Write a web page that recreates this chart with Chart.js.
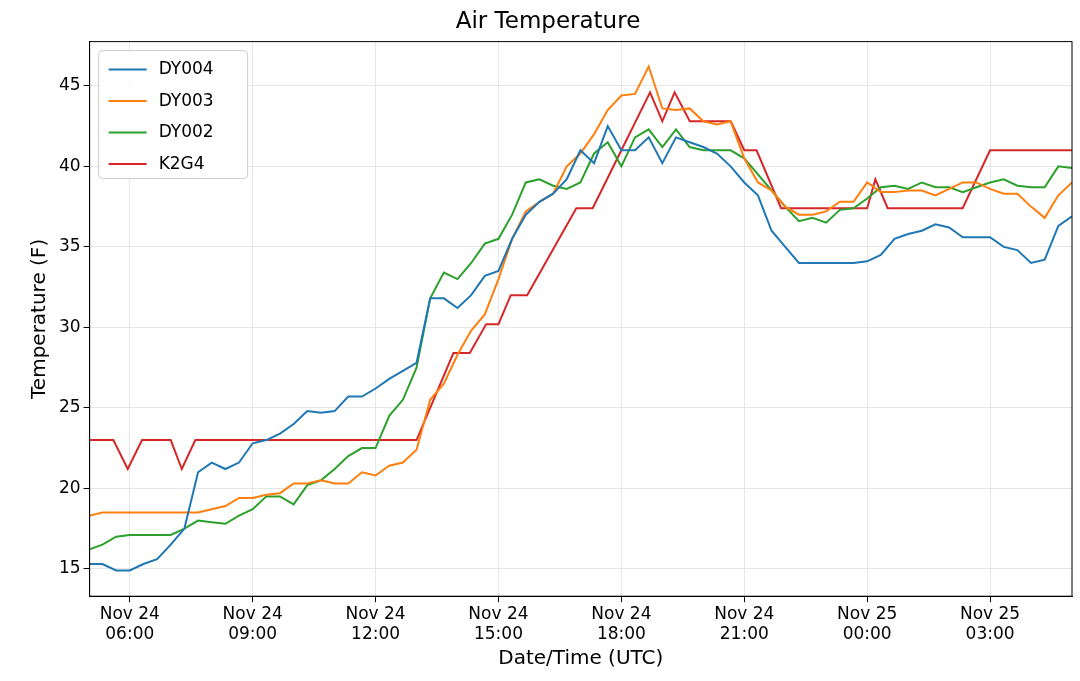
<!DOCTYPE html>
<html>
<head>
<meta charset="utf-8">
<script src="https://cdn.jsdelivr.net/npm/chart.js"></script>
<style>
html,body{margin:0;background:#fff}
#wrap{width:1080px;height:681px}
</style>
</head>
<body>
<div id="wrap"><canvas id="c"></canvas></div>
<script>
// hours since Nov 24 00:00 UTC, every 20 min
const hours = [];
for (let i = 0; i <= 72; i++) hours.push(5 + i / 3);

const dy004 = [15.3,15.3,14.9,14.9,15.3,15.6,16.5,17.5,21.0,21.6,21.2,21.6,22.8,23.0,23.4,24.0,24.8,24.7,24.8,25.7,25.7,26.2,26.8,27.3,27.8,31.8,31.8,31.2,32.0,33.2,33.5,35.5,37.0,37.8,38.3,39.2,41.0,40.2,42.5,41.0,41.0,41.8,40.2,41.8,41.5,41.2,40.8,40.0,39.0,38.2,36.0,35.0,34.0,34.0,34.0,34.0,34.0,34.1,34.5,35.5,35.8,36.0,36.4,36.2,35.6,35.6,35.6,35.0,34.8,34.0,34.2,36.3,36.9];
const dy003 = [18.3,18.5,18.5,18.5,18.5,18.5,18.5,18.5,18.5,18.7,18.9,19.4,19.4,19.6,19.7,20.3,20.3,20.5,20.3,20.3,21.0,20.8,21.4,21.6,22.4,25.5,26.5,28.3,29.8,30.8,33.0,35.5,37.2,37.8,38.3,40.0,40.8,42.0,43.5,44.4,44.5,46.2,43.6,43.5,43.6,42.8,42.6,42.8,40.5,39.0,38.5,37.5,37.0,37.0,37.2,37.8,37.8,39.0,38.4,38.4,38.5,38.5,38.2,38.6,39.0,39.0,38.6,38.3,38.3,37.5,36.8,38.2,39.0];
const dy002 = [16.2,16.5,17.0,17.1,17.1,17.1,17.1,17.5,18.0,17.9,17.8,18.3,18.7,19.5,19.5,19.0,20.2,20.5,21.2,22.0,22.5,22.5,24.5,25.5,27.5,31.8,33.4,33.0,34.0,35.2,35.5,37.0,39.0,39.2,38.8,38.6,39.0,40.8,41.5,40.0,41.8,42.3,41.2,42.3,41.2,41.0,41.0,41.0,40.5,39.5,38.5,37.5,36.6,36.8,36.5,37.3,37.4,38.0,38.7,38.8,38.6,39.0,38.7,38.7,38.4,38.7,39.0,39.2,38.8,38.7,38.7,40.0,39.9];
const k2g4Hours = [5.0,5.6,5.95,6.3,7.0,7.27,7.6,13.0,13.9,14.3,14.7,15.0,15.3,15.7,16.9,17.3,18.0,18.7,19.0,19.3,19.67,20.67,21.0,21.3,21.9,24.0,24.2,24.5,26.33,27.0,29.0];
const k2g4 = [23.0,23.0,21.2,23.0,23.0,21.2,23.0,23.0,28.4,28.4,30.2,30.2,32.0,32.0,37.4,37.4,41.0,44.6,42.8,44.6,42.8,42.8,41.0,41.0,37.4,37.4,39.2,37.4,37.4,41.0,41.0];

const tickHours = [6,9,12,15,18,21,24,27];
const tickLabels = [['Nov 24','06:00'],['Nov 24','09:00'],['Nov 24','12:00'],['Nov 24','15:00'],['Nov 24','18:00'],['Nov 24','21:00'],['Nov 25','00:00'],['Nov 25','03:00']];
const yTicks = [15,20,25,30,35,40,45];

const pts = (xs, ys) => ys.map((y, i) => ({x: xs[i], y}));
const ds = (label, color, data) => ({label, data, borderColor: color, borderWidth: 2, pointRadius: 0, tension: 0});

const FONT = 'DejaVu Sans';

const legendBox = {
  id: 'legendBox',
  afterDraw(chart) {
    const {ctx, chartArea: a} = chart;
    const x0 = a.left + 9, y0 = a.top + 9, w = 149, h = 128;
    ctx.save();
    ctx.fillStyle = 'rgba(255,255,255,0.85)';
    ctx.strokeStyle = '#ccc';
    ctx.lineWidth = 1;
    ctx.beginPath();
    ctx.roundRect(x0, y0, w, h, 4);
    ctx.fill(); ctx.stroke();
    ctx.font = '17px ' + FONT;
    ctx.textBaseline = 'middle';
    chart.data.datasets.forEach((d, i) => {
      const y = y0 + 19 + i * 31.5;
      ctx.strokeStyle = d.borderColor;
      ctx.lineWidth = 2;
      ctx.beginPath(); ctx.moveTo(x0 + 10, y); ctx.lineTo(x0 + 48, y); ctx.stroke();
      ctx.fillStyle = '#000';
      ctx.fillText(d.label, x0 + 60, y);
    });
    ctx.restore();
  }
};

new Chart(document.getElementById('c'), {
  type: 'line',
  data: {datasets: [
    ds('DY004', '#1f77b4', pts(hours, dy004)),
    ds('DY003', '#ff7f0e', pts(hours, dy003)),
    ds('DY002', '#2ca02c', pts(hours, dy002)),
    ds('K2G4', '#d62728', pts(k2g4Hours, k2g4))
  ]},
  options: {
    animation: false, responsive: true, maintainAspectRatio: false,
    layout: {padding: {left: 24, right: 8, top: 0, bottom: 6}},
    plugins: {
      legend: {display: false},
      tooltip: {enabled: false},
      title: {display: true, text: 'Air Temperature', color: '#000', font: {family: FONT, size: 23, weight: 'normal'}, padding: {top: 8, bottom: 6}}
    },
    scales: {
      x: {
        type: 'linear', min: 5.02, max: 29.0,
        afterBuildTicks: s => { s.ticks = tickHours.map(v => ({value: v})); },
        ticks: {color: '#000', font: {family: FONT, size: 17}, maxRotation: 0, padding: 2,
                callback: v => tickLabels[tickHours.indexOf(v)]},
        grid: {color: '#e6e6e6', tickLength: 6, tickColor: '#000'},
        border: {color: '#000', width: 1},
        title: {display: true, text: 'Date/Time (UTC)', color: '#000', font: {family: FONT, size: 20}, padding: {top: 0}}
      },
      y: {
        min: 13.3, max: 47.75,
        afterBuildTicks: s => { s.ticks = yTicks.map(v => ({value: v})); },
        ticks: {color: '#000', font: {family: FONT, size: 17}},
        grid: {color: '#e6e6e6', tickLength: 6, tickColor: '#000'},
        border: {color: '#000', width: 1},
        title: {display: true, text: 'Temperature (F)', color: '#000', font: {family: FONT, size: 20}}
      }
    }
  },
  plugins: [legendBox, {
    id: 'frame',
    afterDraw(chart) {
      const {ctx, chartArea: a} = chart;
      ctx.save(); ctx.strokeStyle = '#000'; ctx.lineWidth = 1;
      ctx.strokeRect(a.left, a.top, a.right - a.left, a.bottom - a.top);
      ctx.restore();
    }
  }]
});
</script>
</body>
</html>
